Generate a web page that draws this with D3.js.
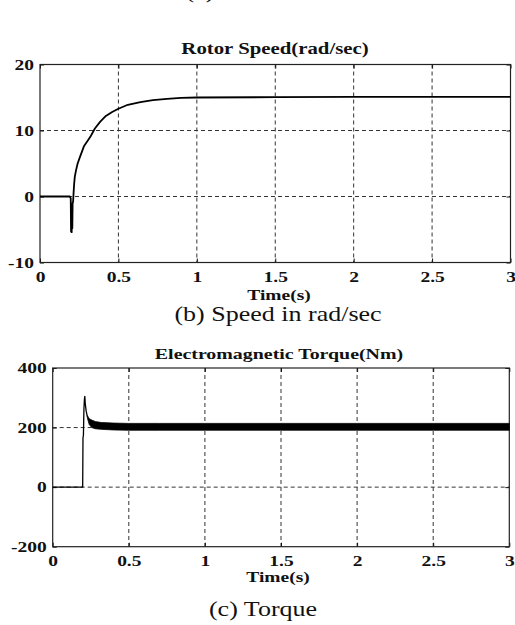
<!DOCTYPE html>
<html>
<head>
<meta charset="utf-8">
<script src="https://cdn.jsdelivr.net/npm/d3@7"></script>
<style>
body { margin: 0; background: #fff; }
svg text { font-family: "Liberation Serif", "Times New Roman", serif; fill: #111; }
</style>
</head>
<body>
<svg width="515" height="625"></svg>
<script>
// ================================ DATA ================================
var xTicks = [0, 0.5, 1, 1.5, 2, 2.5, 3];
var speedTicks = [-10, 0, 10, 20];
var torqueTicks = [-200, 0, 200, 400];

// rotor speed (rad/sec) vs time (s)
var speedTime = [0, 0.19, 0.196, 0.198, 0.200, 0.202, 0.204, 0.206, 0.208, 0.211, 0.214, 0.218, 0.222, 0.23, 0.24, 0.255, 0.28, 0.32, 0.35, 0.383, 0.42, 0.46, 0.5, 0.56, 0.64, 0.72, 0.81, 0.9, 1.0, 1.5, 2.0, 2.5, 3.0];
var speedVal  = [0, 0, -0.3, -5.3, -1.5, -5.4, -1.2, -4.8, -1.0, -0.8, 0.5, 2.0, 3.0, 4.0, 5.0, 6.0, 7.6, 9.0, 10.3, 11.3, 12.2, 12.8, 13.3, 13.9, 14.3, 14.6, 14.8, 14.95, 15.0, 15.05, 15.1, 15.1, 15.1];

// electromagnetic torque (Nm): start-up spike
var torqueTime = [0, 0.197, 0.199, 0.202, 0.205, 0.208, 0.211, 0.214, 0.22, 0.228];
var torqueVal  = [0, 0, 165, 175, 260, 292, 305, 280, 255, 236];

// torque ripple band (upper / lower envelope)
var bandTime = [0.228, 0.24, 0.257, 0.28, 0.32, 0.4, 0.5, 0.7, 1.0, 1.5, 2.0, 2.5, 3.0];
var bandHigh = [240, 230, 225, 220, 217, 215, 214, 214, 214, 214, 214, 214, 214];
var bandLow  = [232, 210, 200, 196, 194, 192, 191, 191, 191, 191, 191, 191, 191];
// ======================================================================

var svg = d3.select("svg");
var sx = 1.3; // the figure is stretched sideways

function label(txt, x, y, size, weight) {
    svg.append("text")
        .attr("transform", "translate(" + x + "," + y + ") scale(" + sx + ",1)")
        .attr("text-anchor", "middle")
        .style("font-size", size + "px")
        .style("font-weight", weight)
        .text(txt);
}

function styleAxis(g) {
    g.select(".domain").remove();
    g.attr("font-family", null)
        .attr("font-size", 15)
        .attr("font-weight", "bold")
        .attr("color", "#111");
    g.selectAll("text").attr("transform", "scale(" + sx + ",1)");
    g.selectAll(".tick line").attr("stroke-width", 1);
}

// ============================== PANEL =================================
function drawPanel(p) {
    var xs = d3.scaleLinear().domain([0, 3]).range([p.left, p.right]);
    var ys = d3.scaleLinear().domain(p.yDomain).range([p.bottom, p.top]);
    var g = svg.append("g");

    // dashed grid
    g.selectAll(".vgrid").data(xTicks.slice(1, -1)).enter().append("line")
        .attr("x1", d => xs(d)).attr("x2", d => xs(d))
        .attr("y1", p.top).attr("y2", p.bottom)
        .attr("stroke", "#333").attr("stroke-width", 1)
        .attr("stroke-dasharray", "4,3");
    g.selectAll(".hgrid").data(p.yTicks.slice(1, -1)).enter().append("line")
        .attr("x1", p.left).attr("x2", p.right)
        .attr("y1", d => ys(d)).attr("y2", d => ys(d))
        .attr("stroke", "#333").attr("stroke-width", 1)
        .attr("stroke-dasharray", "4,3");

    // axes (inward ticks)
    g.append("g").attr("transform", "translate(0," + p.bottom + ")")
        .call(d3.axisBottom(xs).tickValues(xTicks).tickSize(-4).tickPadding(9).tickFormat(d => String(d)))
        .call(styleAxis);
    g.append("g").attr("transform", "translate(0," + p.top + ")")
        .call(d3.axisTop(xs).tickValues(xTicks).tickSize(-4).tickFormat(""))
        .call(styleAxis);
    g.append("g").attr("transform", "translate(" + p.left + ",0)")
        .call(d3.axisLeft(ys).tickValues(p.yTicks).tickSize(-4).tickPadding(4.6).tickFormat(d => String(d)))
        .call(styleAxis);
    g.append("g").attr("transform", "translate(" + p.right + ",0)")
        .call(d3.axisRight(ys).tickValues(p.yTicks).tickSize(-4).tickFormat(""))
        .call(styleAxis);

    // frame
    g.append("rect")
        .attr("x", p.left).attr("y", p.top)
        .attr("width", p.right - p.left).attr("height", p.bottom - p.top)
        .attr("fill", "none").attr("stroke", "#222").attr("stroke-width", 1.2);

    var line = d3.line().x(d => xs(d[0])).y(d => ys(d[1]));

    if (p.band) {
        var area = d3.area().x(d => xs(d[0])).y0(d => ys(d[2])).y1(d => ys(d[1]));
        g.append("path")
            .datum(p.band)
            .attr("fill", "#000").attr("stroke", "#000").attr("stroke-width", 0.8)
            .attr("d", area);
    }

    g.append("path")
        .datum(p.series)
        .attr("fill", "none")
        .attr("stroke", "#000")
        .attr("stroke-width", p.width)
        .attr("stroke-linejoin", "round")
        .attr("d", line);
}

// ============================== TOP: SPEED ============================
label("(a)", 200, -2.5, 20, "normal");
label("Rotor Speed(rad/sec)", 275, 54, 16, "bold");
drawPanel({
    left: 40, right: 510.5, top: 64.5, bottom: 262.5,
    yDomain: [-10, 20], yTicks: speedTicks,
    series: d3.zip(speedTime, speedVal), width: 1.8
});
label("Time(s)", 279, 300, 15, "bold");
label("(b) Speed in rad/sec", 278, 321, 20, "normal");

// ============================ BOTTOM: TORQUE ==========================
label("Electromagnetic Torque(Nm)", 279, 359, 15.3, "bold");
drawPanel({
    left: 52.7, right: 509.3, top: 368, bottom: 546.7,
    yDomain: [-200, 400], yTicks: torqueTicks,
    series: d3.zip(torqueTime, torqueVal), width: 1.3,
    band: d3.zip(bandTime, bandHigh, bandLow)
});
label("Time(s)", 278, 582, 15, "bold");
label("(c) Torque", 263, 616, 20, "normal");
</script>
</body>
</html>
